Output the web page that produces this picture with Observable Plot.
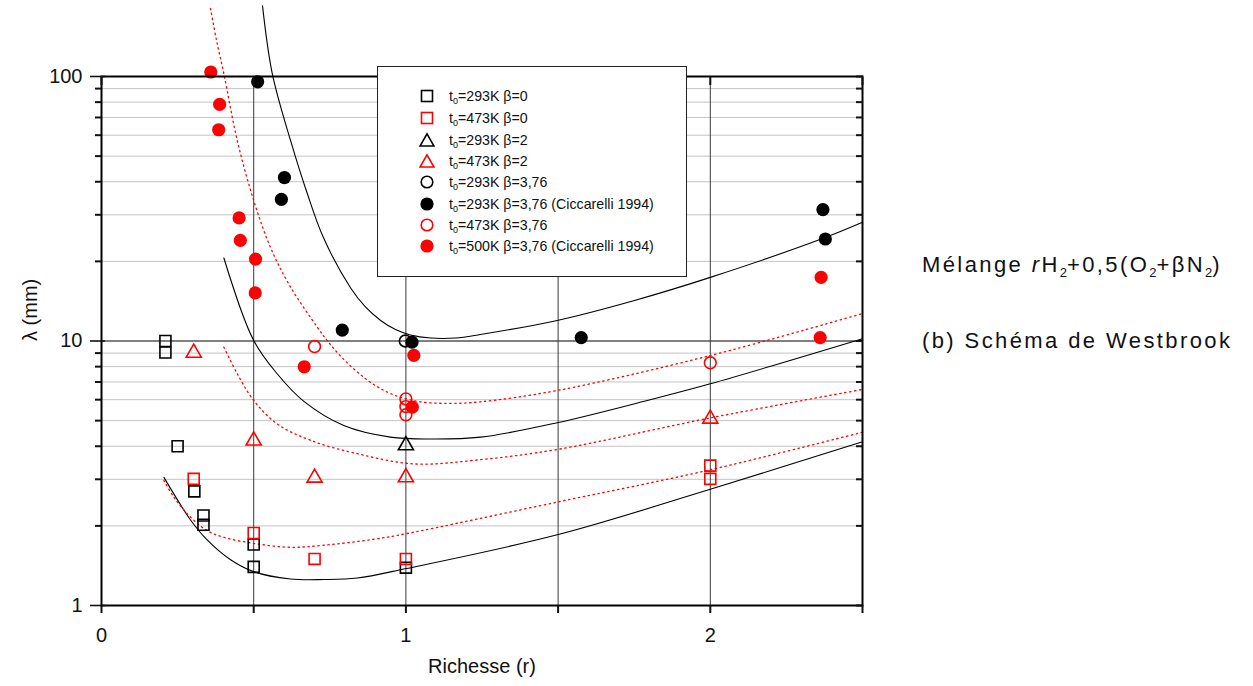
<!DOCTYPE html>
<html>
<head>
<meta charset="utf-8">
<script src="https://cdn.jsdelivr.net/npm/d3@7"></script>
<script src="https://cdn.jsdelivr.net/npm/@observablehq/plot@0.6"></script>
<style>
  html, body { margin: 0; padding: 0; background: white; }
  #wrap { position: relative; width: 1253px; height: 686px; font-family: "Liberation Sans", Arial, sans-serif; }
  #legend { position: absolute; left: 377px; top: 66px; width: 308px; height: 209px; border: 1px solid #222; background: white; }
  .lrow { position: absolute; left: 0; height: 20px; font-size: 14.2px; color: #111; white-space: nowrap; }
  .lrow svg { position: absolute; left: 41px; top: 2px; }
  .lrow span { position: absolute; left: 71px; top: 2px; }
  .lrow sub { font-size: 9px; vertical-align: -3px; line-height: 0; }
  .side { position: absolute; left: 922px; font-size: 22px; letter-spacing: 2.4px; color: #111; white-space: nowrap; transform: translateY(-50%); }
  .side sub { font-size: 13px; vertical-align: -5px; line-height: 0; letter-spacing: 0; }
</style>
</head>
<body>
<div id="wrap"></div>
<script>
// ---- Data (r, lambda in mm) ----
const sq293_b0 = [[0.21,10.0],[0.21,9.05],[0.25,4.0],[0.305,2.70],[0.335,2.19],[0.335,2.02],[0.50,1.70],[0.50,1.40],[1.0,1.39]];
const sq473_b0 = [[0.303,3.01],[0.50,1.88],[0.70,1.50],[1.0,1.50],[2.0,3.38],[2.0,3.01]];
const tri293_b2 = [[1.0,4.03]];
const tri473_b2 = [[0.303,9.02],[0.50,4.2],[0.70,3.04],[1.0,3.05],[2.0,5.08]];
const circ293_b376 = [[0.998,10.0]];
const cicc293_b376 = [[0.513,95.5],[0.601,41.5],[0.591,34.3],[0.791,11.0],[1.02,9.9],[1.576,10.3],[2.37,31.4],[2.378,24.3]];
const circ473_b376 = [[0.70,9.53],[1.0,6.04],[1.0,5.65],[1.0,5.26],[2.0,8.27]];
const cicc500_b376 = [[0.359,104],[0.388,78.4],[0.385,62.9],[0.452,29.2],[0.456,24.0],[0.506,20.4],[0.505,15.2],[0.666,7.99],[1.026,8.82],[1.021,5.62],[2.364,17.4],[2.361,10.3]];

// model curves
const fit293_b376 = [[0.529,185],[0.561,102.6],[0.621,57.3],[0.676,36.1],[0.729,24.6],[0.818,15.9],[0.867,13.45],[0.917,11.96],[0.966,11.05],[1.015,10.54],[1.081,10.26],[1.163,10.26],[1.245,10.58],[1.497,11.96],[1.748,14.2],[2.0,17.4],[2.369,24.4],[2.5,28.1]];
const fit293_b2 = [[0.402,20.6],[0.500,10.04],[0.577,7.52],[0.665,5.91],[0.796,4.79],[0.949,4.33],[1.081,4.26],[1.245,4.33],[1.497,4.91],[1.793,5.96],[2.0,6.89],[2.5,10.2]];
const fit293_b0 = [[0.205,3.05],[0.292,2.11],[0.347,1.77],[0.424,1.49],[0.502,1.34],[0.621,1.26],[0.730,1.254],[0.840,1.27],[1.002,1.38],[1.497,1.85],[2.0,2.75],[2.5,4.16]];
const fit473_b376 = [[0.358,181],[0.378,136.8],[0.402,102.4],[0.446,57.3],[0.500,34.0],[0.555,22.6],[0.621,16.0],[0.709,11.28],[0.7415,10.03],[0.785,8.78],[0.840,7.64],[0.900,6.78],[0.966,6.22],[1.048,5.89],[1.147,5.81],[1.245,5.89],[1.497,6.50],[2.0,8.81],[2.5,12.7]];
const fit473_b2 = [[0.402,9.48],[0.446,7.52],[0.500,5.96],[0.577,4.86],[0.687,4.21],[0.840,3.75],[1.026,3.43],[1.245,3.56],[1.497,3.89],[2.0,5.12],[2.5,6.56]];
const fit473_b0 = [[0.205,2.97],[0.2375,2.57],[0.292,2.16],[0.347,1.92],[0.402,1.81],[0.511,1.71],[0.621,1.66],[0.730,1.69],[0.895,1.78],[1.002,1.87],[1.497,2.46],[2.0,3.26],[2.5,4.52]];

// axes / grid values
const xTicks = [0, 0.5, 1, 1.5, 2, 2.5];
const xGrid = [0.5, 1, 1.5, 2];
const yMajor = [1, 10, 100];
const yMinor = [2,3,4,5,6,7,8,9,20,30,40,50,60,70,80,90];

const legendLabels = [
  "t<sub>0</sub>=293K β=0",
  "t<sub>0</sub>=473K β=0",
  "t<sub>0</sub>=293K β=2",
  "t<sub>0</sub>=473K β=2",
  "t<sub>0</sub>=293K β=3,76",
  "t<sub>0</sub>=293K β=3,76 (Ciccarelli 1994)",
  "t<sub>0</sub>=473K β=3,76",
  "t<sub>0</sub>=500K β=3,76 (Ciccarelli 1994)"
];
const legendSymbols = ["square","square","triangle","triangle","circle","circle","circle","circle"];
const legendColors = ["black","red","black","red","black","black","red","red"];
const legendFilled = [false,false,false,false,false,true,false,true];

const RED = "#ff0000";
const X = d => d[0], Y = d => d[1];
const col = c => c === "red" ? RED : "black";

function dots(data, symbol, color, filled) {
  const r = symbol === "square" ? 6.2 : symbol === "triangle" ? 5.6 : (filled ? 6.6 : 5.9);
  return Plot.dot(data, {
    x: X, y: Y, symbol, r,
    stroke: filled ? "none" : col(color),
    fill: filled ? col(color) : "none",
    strokeWidth: 1.6
  });
}

const blackLine = data => Plot.line(data, {x: X, y: Y, stroke: "black", strokeWidth: 1.1, curve: "catmull-rom"});
const redLine = data => Plot.line(data, {x: X, y: Y, stroke: RED, strokeWidth: 1.3, strokeDasharray: "1.4 3.6", curve: "catmull-rom"});

const chart = Plot.plot({
  width: 1253,
  height: 686,
  marginLeft: 101,
  marginRight: 391,
  marginTop: 76,
  marginBottom: 81,
  style: {fontFamily: "Liberation Sans, Arial, sans-serif", fontSize: "20px", background: "white", overflow: "visible", color: "#111"},
  x: {domain: [0, 2.5]},
  y: {type: "log", domain: [1, 100]},
  marks: [
    Plot.ruleY(yMinor, {stroke: "#c4c4c4", strokeWidth: 1}),
    Plot.ruleY([10], {stroke: "black", strokeWidth: 1}),
    Plot.ruleX(xGrid, {stroke: "#3a3a3a", strokeWidth: 1}),
    blackLine(fit293_b376),
    blackLine(fit293_b2),
    blackLine(fit293_b0),
    redLine(fit473_b376),
    redLine(fit473_b2),
    redLine(fit473_b0),
    dots(sq293_b0, "square", "black", false),
    dots(sq473_b0, "square", "red", false),
    dots(tri293_b2, "triangle", "black", false),
    dots(tri473_b2, "triangle", "red", false),
    dots(circ293_b376, "circle", "black", false),
    dots(cicc293_b376, "circle", "black", true),
    dots(circ473_b376, "circle", "red", false),
    dots(cicc500_b376, "circle", "red", true),
    Plot.frame({stroke: "black", strokeWidth: 2}),
    Plot.axisX({ticks: xTicks, tickSize: 8, tickPadding: 14, strokeWidth: 2, label: null,
      tickFormat: d => Number.isInteger(d) ? String(d) : ""}),
    Plot.axisX({anchor: "top", ticks: xTicks, tickSize: 8, dy: 8, strokeWidth: 2, label: null, tickFormat: () => ""}),
    Plot.axisY({ticks: yMajor, tickSize: 11, tickPadding: 8, strokeWidth: 1.6, label: null, tickFormat: d => String(d)}),
    Plot.axisY({ticks: yMajor, tickSize: 4, dx: 4, strokeWidth: 1.6, label: null, tickFormat: () => ""}),
    Plot.axisY({ticks: yMinor, tickSize: 6, strokeWidth: 2, label: null, tickFormat: () => ""}),
    Plot.axisY({anchor: "right", ticks: yMinor.concat(yMajor), tickSize: 7, dx: -7, strokeWidth: 2, label: null, tickFormat: () => ""}),
    Plot.text(["Richesse (r)"], {text: d => d, frameAnchor: "bottom", dy: 67, fontSize: 20}),
    Plot.text(["λ (mm)"], {text: d => d, frameAnchor: "left", dx: -71, rotate: -90, fontSize: 20})
  ]
});

const wrap = document.getElementById("wrap");
wrap.appendChild(chart);

// legend
const legend = document.createElement("div");
legend.id = "legend";
const rowCenters = [95, 117, 139, 160, 181, 203, 224, 245];
legendLabels.forEach((lab, i) => {
  const row = document.createElement("div");
  row.className = "lrow";
  row.style.top = (rowCenters[i] - 66 - 10) + "px";
  const c = col(legendColors[i]);
  let shape;
  if (legendSymbols[i] === "square") shape = `<rect x="2.5" y="2.5" width="11" height="11" fill="none" stroke="${c}" stroke-width="1.6"/>`;
  else if (legendSymbols[i] === "triangle") shape = `<path d="M8,1.8 L15,14 L1,14 Z" fill="none" stroke="${c}" stroke-width="1.6"/>`;
  else shape = legendFilled[i] ? `<circle cx="8" cy="8" r="6.6" fill="${c}"/>` : `<circle cx="8" cy="8" r="5.8" fill="none" stroke="${c}" stroke-width="1.6"/>`;
  row.innerHTML = `<svg width="16" height="16">${shape}</svg><span>${lab}</span>`;
  legend.appendChild(row);
});
wrap.appendChild(legend);

// side notes
const side1 = document.createElement("div");
side1.className = "side";
side1.style.top = "265px";
side1.innerHTML = "Mélange <i>r</i>H<sub>2</sub>+0,5(O<sub>2</sub>+βN<sub>2</sub>)";
wrap.appendChild(side1);
const side2 = document.createElement("div");
side2.className = "side";
side2.style.top = "341px";
side2.textContent = "(b) Schéma de Westbrook";
wrap.appendChild(side2);
</script>
</body>
</html>
